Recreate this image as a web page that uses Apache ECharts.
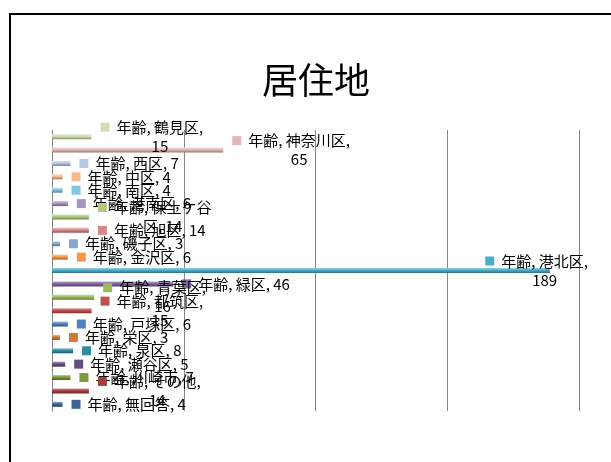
<!DOCTYPE html>
<html>
<head>
<meta charset="utf-8">
<script src="https://cdn.jsdelivr.net/npm/echarts@6/dist/echarts.min.js"></script>
<style>
html,body{margin:0;padding:0;background:#fff;}
#chart{width:611px;height:462px;}
</style>
</head>
<body>
<div id="chart"></div>
<script>
// ---- data (top to bottom as displayed) ----
const titleText = '居住地';
const seriesName = '年齢';
const categories = ['鶴見区','神奈川区','西区','中区','南区','港南区','保土ケ谷区','旭区','磯子区','金沢区','港北区','緑区','青葉区','都筑区','戸塚区','栄区','泉区','瀬谷区','川崎市','その他','無回答'];
const values = [15,65,7,4,4,6,14,14,3,6,189,46,16,15,6,3,8,5,7,14,4];
const axisMin = 0, axisMax = 200, axisInterval = 50;

// ---- styles ----
const colors = ['#d0ddb6','#e2b7b6','#b6c9e2','#f9b98a','#86c6d8','#a693c0','#b1cb80','#d68684','#87a7d3','#f79646','#4bacc6','#8064a2','#9bbb59','#c0504d','#4f81bd','#cf7a36','#348a9d','#654f82','#7a9a3d','#a53f3d','#3c6597'];
const FONT = '"Noto Sans CJK JP", "Liberation Sans", sans-serif';
const FS = 15;
const MAXW = 102.5;
const MW = 9, GAP = 7;

const cv = document.createElement('canvas').getContext('2d');
cv.font = FS + 'px ' + FONT;
const measure = s => cv.measureText(s).width;
const isCJK = c => /[\u3000-\u9fff\uff00-\uffef]/.test(c);

function wrap(text){
  if (measure(text) <= MAXW) return [text];
  let best = -1;
  for (let i = 1; i < text.length; i++){
    const prev = text[i-1], cur = text[i];
    const ok = prev === ' ' || (isCJK(prev) && cur !== ',' && cur !== ' ');
    if (ok && measure(text.slice(0,i).trimEnd()) <= MAXW) best = i;
  }
  if (best < 0) return [text];
  return [text.slice(0,best).trimEnd(), text.slice(best)];
}

function mix(hex, t, target){
  const n = parseInt(hex.slice(1),16);
  const r=(n>>16)&255,g=(n>>8)&255,b=n&255;
  const f = v => Math.round(v + (target - v)*t);
  return 'rgb('+f(r)+','+f(g)+','+f(b)+')';
}

const data = values.map((v, i) => {
  const c = colors[i];
  const full = seriesName + ', ' + categories[i] + ', ' + v;
  const lines = wrap(full);
  const rich = {
    m: {width: MW, height: MW, backgroundColor: c},
    g: {width: GAP},
    t: {fontSize: FS, fontFamily: FONT, color: '#000', lineHeight: 19}
  };
  let fmt = '{m|}{g|}{t|' + lines[0] + '}';
  if (lines.length > 1){
    const pad = MW + GAP + (measure(lines[0]) - measure(lines[1]))/2;
    rich.p = {width: pad};
    fmt += '\n{p|}{t|' + lines[1] + '}';
  }
  return {
    value: v,
    itemStyle: {
      color: new echarts.graphic.LinearGradient(0,0,0,1,[
        {offset:0, color: mix(c,0.45,255)},
        {offset:0.45, color: c},
        {offset:1, color: mix(c,0.35,0)}
      ])
    },
    label: {formatter: fmt, rich: rich}
  };
});

const chart = echarts.init(document.getElementById('chart'), null, {renderer:'canvas'});
chart.setOption({
  animation: false,
  backgroundColor: '#fff',
  title: {
    text: titleText, left: 311, top: 57, textAlign: 'center',
    textStyle: {fontSize: 36, fontWeight: 'normal', color: '#000', fontFamily: FONT}
  },
  graphic: [{
    type: 'rect', shape: {x: 10, y: 14, width: 800, height: 700},
    style: {fill: 'none', stroke: '#000', lineWidth: 2}, silent: true
  }],
  grid: {left: 52, right: 32, top: 130, bottom: 51, containLabel: false},
  xAxis: {
    type: 'value', min: axisMin, max: axisMax, interval: axisInterval,
    axisLabel: {show: false}, axisTick: {show: false}, axisLine: {show: false},
    splitLine: {show: true, lineStyle: {color: '#868686', width: 1}}
  },
  yAxis: {
    type: 'category', data: categories, inverse: true,
    axisLabel: {show: false}, axisTick: {show: false},
    axisLine: {show: true, lineStyle: {color: '#868686', width: 1}}
  },
  series: [{
    type: 'bar', name: seriesName, data: data, barWidth: 5,
    label: {show: true, position: 'right', distance: 9, verticalAlign: 'middle', offset: [0, 2]},
    labelLayout: function(p){
      const r = p.labelRect, limit = 588;
      if (r.x + r.width > limit) return {dx: limit - (r.x + r.width)};
      return {};
    }
  }]
});
</script>
</body>
</html>
